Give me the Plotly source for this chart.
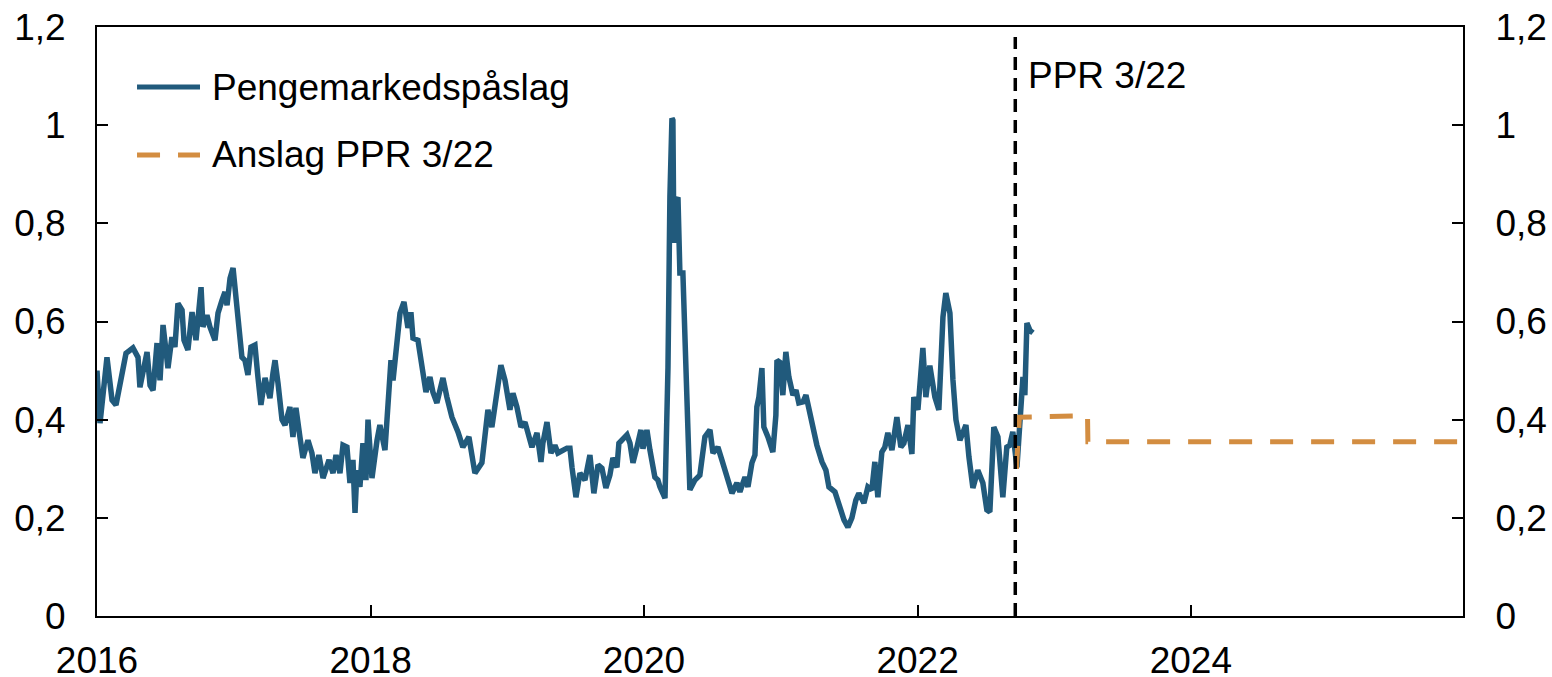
import numpy as np
import pandas as pd
import plotly.graph_objects as go

# ---------------- data ----------------
# money market premium, time as decimal years
money_t = [
    2016.000, 2016.022, 2016.073, 2016.110, 2016.139, 2016.183, 2016.212, 2016.263, 2016.300, 2016.314,
    2016.366, 2016.388, 2016.410, 2016.439, 2016.461, 2016.483, 2016.519, 2016.548, 2016.570, 2016.592,
    2016.622, 2016.636, 2016.665, 2016.695, 2016.724, 2016.761, 2016.775, 2016.804, 2016.826, 2016.863,
    2016.885, 2016.914, 2016.936, 2016.951, 2016.973, 2016.995, 2017.024, 2017.046, 2017.060, 2017.082,
    2017.104, 2017.126, 2017.155, 2017.177, 2017.199, 2017.229, 2017.265, 2017.287, 2017.302, 2017.324,
    2017.353, 2017.375, 2017.411, 2017.433, 2017.455, 2017.484, 2017.506, 2017.543, 2017.572, 2017.594,
    2017.623, 2017.653, 2017.697, 2017.726, 2017.748, 2017.777, 2017.799, 2017.828, 2017.850, 2017.872,
    2017.887, 2017.901, 2017.923, 2017.945, 2017.967, 2017.982, 2018.011, 2018.048, 2018.069, 2018.106,
    2018.128, 2018.150, 2018.165, 2018.194, 2018.216, 2018.245, 2018.274, 2018.296, 2018.311, 2018.347,
    2018.384, 2018.406, 2018.435, 2018.457, 2018.486, 2018.530, 2018.559, 2018.596, 2018.640, 2018.676,
    2018.720, 2018.764, 2018.815, 2018.837, 2018.859, 2018.888, 2018.925, 2018.954, 2018.984, 2019.020,
    2019.042, 2019.071, 2019.101, 2019.130, 2019.181, 2019.218, 2019.247, 2019.261, 2019.291, 2019.320,
    2019.349, 2019.371, 2019.437, 2019.459, 2019.474, 2019.503, 2019.532, 2019.569, 2019.605, 2019.634,
    2019.664, 2019.693, 2019.722, 2019.751, 2019.773, 2019.803, 2019.817, 2019.846, 2019.876, 2019.898,
    2019.920, 2019.949, 2019.978, 2019.993, 2020.022, 2020.044, 2020.066, 2020.080, 2020.102, 2020.117,
    2020.154, 2020.168, 2020.176, 2020.190, 2020.205, 2020.212, 2020.219, 2020.227, 2020.249, 2020.263,
    2020.285, 2020.300, 2020.314, 2020.322, 2020.336, 2020.373, 2020.409, 2020.446, 2020.483, 2020.505,
    2020.541, 2020.570, 2020.607, 2020.644, 2020.680, 2020.702, 2020.739, 2020.761, 2020.790, 2020.812,
    2020.826, 2020.841, 2020.863, 2020.877, 2020.907, 2020.943, 2020.965, 2020.973, 2020.994, 2021.016,
    2021.038, 2021.060, 2021.090, 2021.112, 2021.133, 2021.163, 2021.185, 2021.214, 2021.243, 2021.265,
    2021.302, 2021.331, 2021.353, 2021.397, 2021.433, 2021.463, 2021.492, 2021.521, 2021.550, 2021.572,
    2021.609, 2021.638, 2021.667, 2021.689, 2021.711, 2021.740, 2021.762, 2021.784, 2021.814, 2021.850,
    2021.879, 2021.901, 2021.931, 2021.960, 2021.974, 2022.004, 2022.040, 2022.062, 2022.091, 2022.128,
    2022.157, 2022.187, 2022.208, 2022.238, 2022.260, 2022.282, 2022.311, 2022.355, 2022.377, 2022.406,
    2022.442, 2022.479, 2022.508, 2022.530, 2022.559, 2022.589, 2022.625, 2022.654, 2022.676, 2022.698,
    2022.728, 2022.750, 2022.772, 2022.786, 2022.801, 2022.823, 2022.845,
]
money_v = [
    0.500, 0.393, 0.527, 0.440, 0.430, 0.487, 0.535, 0.546, 0.527, 0.466,
    0.538, 0.470, 0.460, 0.556, 0.480, 0.593, 0.505, 0.568, 0.548, 0.637,
    0.623, 0.562, 0.542, 0.619, 0.562, 0.670, 0.589, 0.613, 0.589, 0.562,
    0.617, 0.643, 0.660, 0.633, 0.688, 0.709, 0.623, 0.582, 0.527, 0.521,
    0.491, 0.548, 0.552, 0.487, 0.430, 0.485, 0.444, 0.495, 0.521, 0.474,
    0.400, 0.389, 0.426, 0.365, 0.424, 0.365, 0.322, 0.358, 0.332, 0.291,
    0.328, 0.281, 0.318, 0.291, 0.328, 0.291, 0.348, 0.344, 0.271, 0.318,
    0.210, 0.297, 0.263, 0.352, 0.277, 0.400, 0.281, 0.358, 0.389, 0.338,
    0.454, 0.521, 0.480, 0.562, 0.617, 0.640, 0.587, 0.619, 0.566, 0.562,
    0.501, 0.456, 0.487, 0.456, 0.434, 0.485, 0.446, 0.405, 0.375, 0.344,
    0.365, 0.291, 0.312, 0.379, 0.420, 0.385, 0.466, 0.511, 0.480, 0.420,
    0.454, 0.426, 0.385, 0.395, 0.344, 0.373, 0.314, 0.352, 0.395, 0.332,
    0.348, 0.332, 0.342, 0.342, 0.303, 0.242, 0.291, 0.277, 0.328, 0.250,
    0.308, 0.301, 0.261, 0.287, 0.322, 0.303, 0.352, 0.362, 0.369, 0.352,
    0.312, 0.344, 0.379, 0.341, 0.379, 0.338, 0.310, 0.283, 0.277, 0.263,
    0.240, 0.385, 0.507, 0.853, 1.014, 1.010, 0.760, 0.841, 0.853, 0.699,
    0.699, 0.582, 0.420, 0.413, 0.257, 0.277, 0.287, 0.365, 0.379, 0.332,
    0.344, 0.318, 0.283, 0.250, 0.271, 0.253, 0.283, 0.263, 0.312, 0.328,
    0.426, 0.446, 0.505, 0.385, 0.365, 0.334, 0.409, 0.521, 0.517, 0.450,
    0.538, 0.487, 0.450, 0.460, 0.434, 0.436, 0.450, 0.409, 0.373, 0.348,
    0.314, 0.297, 0.263, 0.253, 0.222, 0.196, 0.181, 0.200, 0.236, 0.250,
    0.230, 0.263, 0.257, 0.314, 0.242, 0.334, 0.344, 0.373, 0.338, 0.405,
    0.344, 0.352, 0.389, 0.330, 0.446, 0.420, 0.546, 0.446, 0.510, 0.446,
    0.420, 0.609, 0.658, 0.617, 0.481, 0.400, 0.358, 0.389, 0.324, 0.261,
    0.297, 0.271, 0.216, 0.212, 0.385, 0.365, 0.242, 0.344, 0.348, 0.375,
    0.303, 0.400, 0.487, 0.450, 0.597, 0.582, 0.577,
]

# projection from the monetary policy report
proj_dates = ["2022-09-22", "2022-09-30", "2023-03-31", "2023-04-01", "2025-12-31"]
proj_v = [0.30, 0.405, 0.408, 0.355, 0.355]

ppr_date = "2022-09-19"

y_ticks = [0, 0.2, 0.4, 0.6, 0.8, 1.0, 1.2]
y_tick_labels = ["0", "0,2", "0,4", "0,6", "0,8", "1", "1,2"]
x_ticks = ["2016-01-01", "2018-01-01", "2020-01-01", "2022-01-01", "2024-01-01"]
x_tick_labels = ["2016", "2018", "2020", "2022", "2024"]

name_money = "Pengemarkedspåslag"
name_proj = "Anslag PPR 3/22"
ppr_label = "PPR 3/22"

# ---------------- styling ----------------
BLUE = "#215A7C"
ORANGE = "#D38D41"
FONT = "Liberation Sans, Arial, sans-serif"
FS = 37

money_dates = pd.Timestamp("2016-01-01") + pd.to_timedelta(
    (np.array(money_t) - 2016.0) * 365.25, unit="D")

fig = go.Figure()
fig.add_trace(go.Scatter(x=money_dates, y=money_v, mode="lines", name=name_money,
                         line=dict(color=BLUE, width=5.5), showlegend=False))
fig.add_trace(go.Scatter(x=pd.to_datetime(proj_dates), y=proj_v, mode="lines", name=name_proj,
                         line=dict(color=ORANGE, width=5, dash="23px,18px"), showlegend=False))
# invisible trace to activate right axis
fig.add_trace(go.Scatter(x=[pd.Timestamp(proj_dates[-1])], y=[proj_v[-1]], yaxis="y2",
                         mode="lines", showlegend=False, hoverinfo="skip", opacity=0))

fig.add_shape(type="line", xref="x", yref="paper", x0=ppr_date, x1=ppr_date, y0=0, y1=0.983,
              line=dict(color="black", width=3.5, dash="13px,8px"))
fig.add_annotation(x=ppr_date, y=0.917, xref="x", yref="paper", text=ppr_label, showarrow=False,
                   xanchor="left", yanchor="middle", xshift=11, font=dict(size=FS, color="black", family=FONT))

# manual legend
leg = [(name_money, BLUE, "solid", 0.898), (name_proj, ORANGE, "23px,18px", 0.7827)]
for txt, col, dsh, yy in leg:
    fig.add_shape(type="line", xref="paper", yref="paper", x0=0.0293, x1=0.0754, y0=yy, y1=yy,
                  line=dict(color=col, width=5, dash=dsh))
    fig.add_annotation(x=0.0842, y=yy, xref="paper", yref="paper", text=txt, showarrow=False,
                       xanchor="left", yanchor="middle", xshift=-2,
                       font=dict(size=FS, color="black", family=FONT))

axis_common = dict(showgrid=False, zeroline=False, showline=True, linecolor="black", linewidth=2,
                   ticks="inside", tickcolor="black", tickwidth=2, ticklen=11, automargin=False,
                   ticklabeloverflow="allow",
                   tickfont=dict(size=FS, color="black", family=FONT))

fig.update_layout(
    width=1552, height=677, autosize=False,
    margin=dict(l=97, r=89, t=27, b=61),
    paper_bgcolor="white", plot_bgcolor="white",
    font=dict(family=FONT, size=FS, color="black"),
    showlegend=False,
    xaxis=dict(type="date", range=["2016-01-01", "2025-12-28"], tickvals=x_ticks, ticktext=x_tick_labels,
               mirror=True, ticklabelstandoff=11, **axis_common),
    yaxis=dict(range=[0, 1.2], tickvals=y_ticks, ticktext=y_tick_labels, ticklabelstandoff=22,
               **axis_common),
    yaxis2=dict(range=[0, 1.2], tickvals=y_ticks, ticktext=y_tick_labels, overlaying="y", side="right",
                ticklabelstandoff=23, **axis_common),
)

# remove the default page margin so the figure fills the 1552x677 window exactly
fig.write_html(
    "out.html",
    config={"displayModeBar": False},
    post_script="document.body.style.margin='0';document.body.style.overflow='hidden';"
                "document.documentElement.style.overflow='hidden';",
)
